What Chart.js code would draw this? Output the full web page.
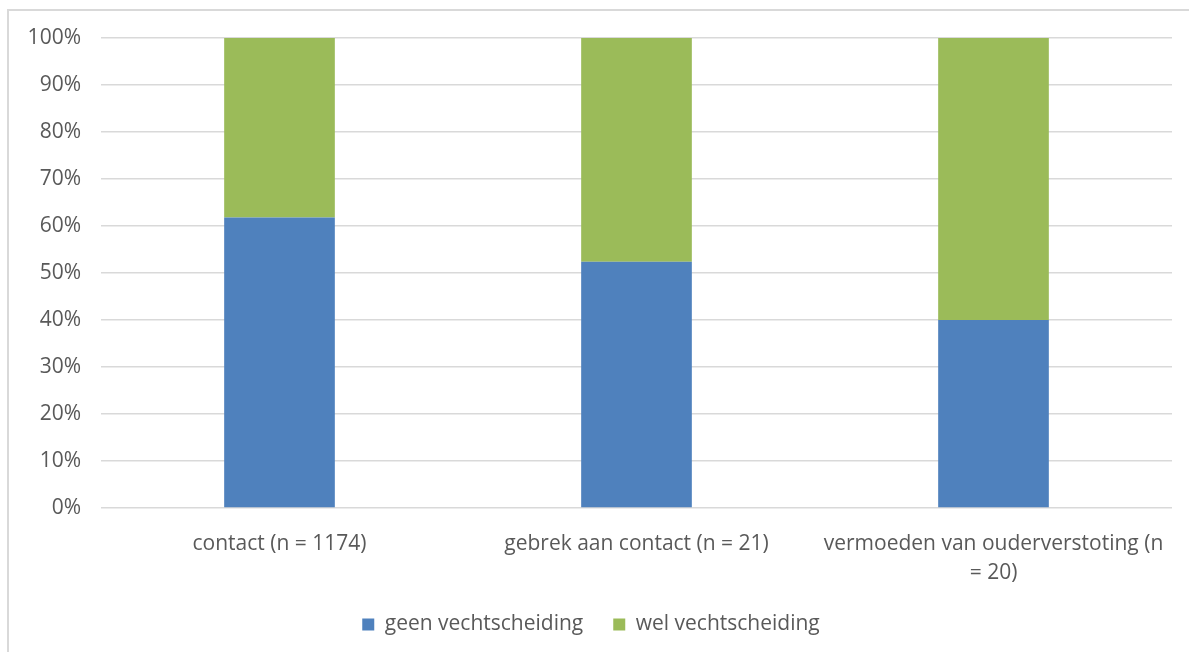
<!DOCTYPE html>
<html>
<head>
<meta charset="utf-8">
<script src="https://cdn.jsdelivr.net/npm/chart.js@4.4.0/dist/chart.umd.min.js"></script>
<style>
    html, body { margin: 0; padding: 0; background: #fff; overflow: hidden; }
    #kader { position: absolute; left: 7px; top: 9px; width: 1400px; height: 900px; border: 2px solid #d9d9d9; }
    #wrap { position: absolute; left: 0; top: 0; width: 1189px; height: 652px; }
</style>
</head>
<body>
<div id="kader"></div>
<div id="wrap"><canvas id="grafiek"></canvas></div>
<script>
// categorieen en percentages per groep
const categorieen = [
    'contact (n = 1174)',
    'gebrek aan contact (n = 21)',
    ['vermoeden van ouderverstoting (n', '= 20)']
];
const geenVecht = [61.8, 52.4, 40.0];
const welVecht = [38.2, 47.6, 60.0];
const tickLabels = ['0%', '10%', '20%', '30%', '40%', '50%', '60%', '70%', '80%', '90%', '100%'];

const fontFam = "'Open Sans', 'Noto Sans', sans-serif";
const grijs = '#595959';

const ctx = document.getElementById('grafiek').getContext('2d');
new Chart(ctx, {
    type: 'bar',
    data: {
        labels: categorieen,
        datasets: [
            { label: 'geen vechtscheiding', data: geenVecht, backgroundColor: '#4f81bd', categoryPercentage: 1, barPercentage: 0.31 },
            { label: 'wel vechtscheiding', data: welVecht, backgroundColor: '#9bbb59', categoryPercentage: 1, barPercentage: 0.31 }
        ]
    },
    options: {
        responsive: true,
        maintainAspectRatio: false,
        animation: false,
        layout: { padding: { left: 10, right: 17, top: 38, bottom: 7 } },
        plugins: {
            tooltip: { enabled: false },
            legend: {
                position: 'bottom',
                labels: {
                    color: grijs,
                    font: { family: fontFam, size: 21 },
                    boxWidth: 12, boxHeight: 12,
                    padding: 30
                }
            }
        },
        scales: {
            x: {
                stacked: true,
                afterFit: s => { s.height = 76; },
                grid: { display: false },
                border: { display: false },
                ticks: { color: grijs, font: { family: fontFam, size: 21, lineHeight: 1.4 }, maxRotation: 0, padding: 13 }
            },
            y: {
                stacked: true,
                min: 0, max: 100,
                afterFit: s => { s.width = 91; },
                afterBuildTicks: s => { s.ticks = tickLabels.map((t, i) => ({ value: i * 10 })); },
                grid: { color: '#d9d9d9', lineWidth: 1.5, drawTicks: false },
                border: { display: false },
                ticks: {
                    color: grijs,
                    font: { family: fontFam, size: 21 },
                    padding: 20,
                    callback: (v, i) => tickLabels[i]
                }
            }
        }
    }
});
</script>
</body>
</html>
